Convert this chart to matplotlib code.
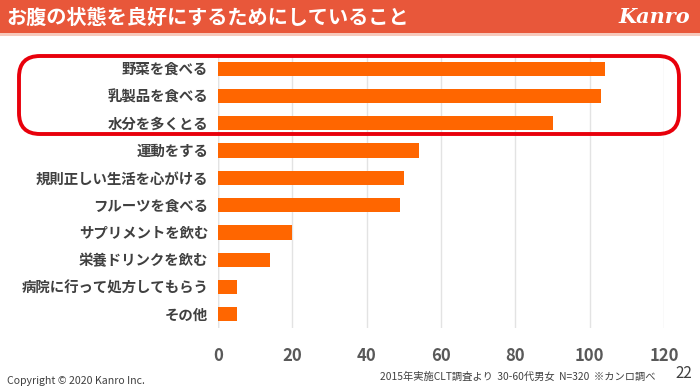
import matplotlib.pyplot as plt
from matplotlib.patches import FancyBboxPatch, Rectangle

plt.rcParams['font.family'] = ['Noto Sans CJK JP', 'DejaVu Sans']

# données
categories = ["野菜を食べる", "乳製品を食べる", "水分を多くとる", "運動をする",
              "規則正しい生活を心がける", "フルーツを食べる", "サプリメントを飲む",
              "栄養ドリンクを飲む", "病院に行って処方してもらう", "その他"]
valeurs = [104, 103, 90, 54, 50, 49, 20, 14, 5, 5]
graduations = [0, 20, 40, 60, 80, 100, 120]

titre = "お腹の状態を良好にするためにしていること"
note = "2015年実施CLT調査より  30-60代男女  N=320  ※カンロ調べ"

fig = plt.figure(figsize=(7, 3.9), dpi=100)
W, H = 700, 390

# bandeau du titre
fig.patches.append(Rectangle((0, 1 - 33 / H), 1, 33 / H, transform=fig.transFigure,
                             facecolor="#E8573A", edgecolor="none", zorder=0))
fig.patches.append(Rectangle((0, 1 - 36 / H), 1, 3 / H, transform=fig.transFigure,
                             facecolor="#F6C9BC", edgecolor="none", zorder=0))
fig.text(6 / W, 1 - 17 / H, titre, color="white", fontsize=14.5, fontweight="bold",
         va="center", ha="left")
fig.text(690 / W, 1 - 17 / H, "Kanro", color="white", fontsize=15, fontweight="bold",
         style="italic", family="DejaVu Serif", va="center", ha="right")

ax = fig.add_axes([218 / W, 1 - 328 / H, (664 - 218) / W, (328 - 55) / H])
y = list(range(len(categories)))
ax.barh(y, valeurs, height=0.52, color="#FF6600", zorder=2)
ax.set_ylim(len(categories) - 0.5, -0.5)
ax.set_xlim(0, 120)
ax.set_xticks(graduations)
ax.set_yticks(y)
ax.set_yticklabels(categories, fontsize=10.4, fontweight="bold", color="#404040")
ax.tick_params(axis="x", labelsize=12, labelcolor="#595959", length=0, pad=14)
ax.tick_params(axis="y", length=0, pad=7)
for lab in ax.get_xticklabels():
    lab.set_fontweight("bold")
ax.grid(axis="x", color="#E3E3E3", linewidth=1, zorder=0)
for s in ax.spines.values():
    s.set_visible(False)
ax.axvline(0, color="#D9D9D9", linewidth=1, zorder=1)

# cadre rouge arrondi autour des trois premiers
fig.patches.append(FancyBboxPatch((19 / W, 1 - 134 / H), 660 / W, 78 / H,
                                  boxstyle="round,pad=0,rounding_size=0.03",
                                  transform=fig.transFigure, facecolor="none",
                                  edgecolor="#E8000B", linewidth=2.8, zorder=5,
                                  mutation_aspect=W / H))

fig.text(7 / W, 1 - 381 / H, "Copyright © 2020 Kanro Inc.", fontsize=7.6,
         color="#404040", va="center", ha="left")
fig.text(380 / W, 1 - 377 / H, note, fontsize=7.4, color="#404040",
         va="center", ha="left")
fig.text(684 / W, 1 - 373 / H, "22", fontsize=11, color="#404040",
         va="center", ha="center")

fig.savefig("out.png", dpi=100)
